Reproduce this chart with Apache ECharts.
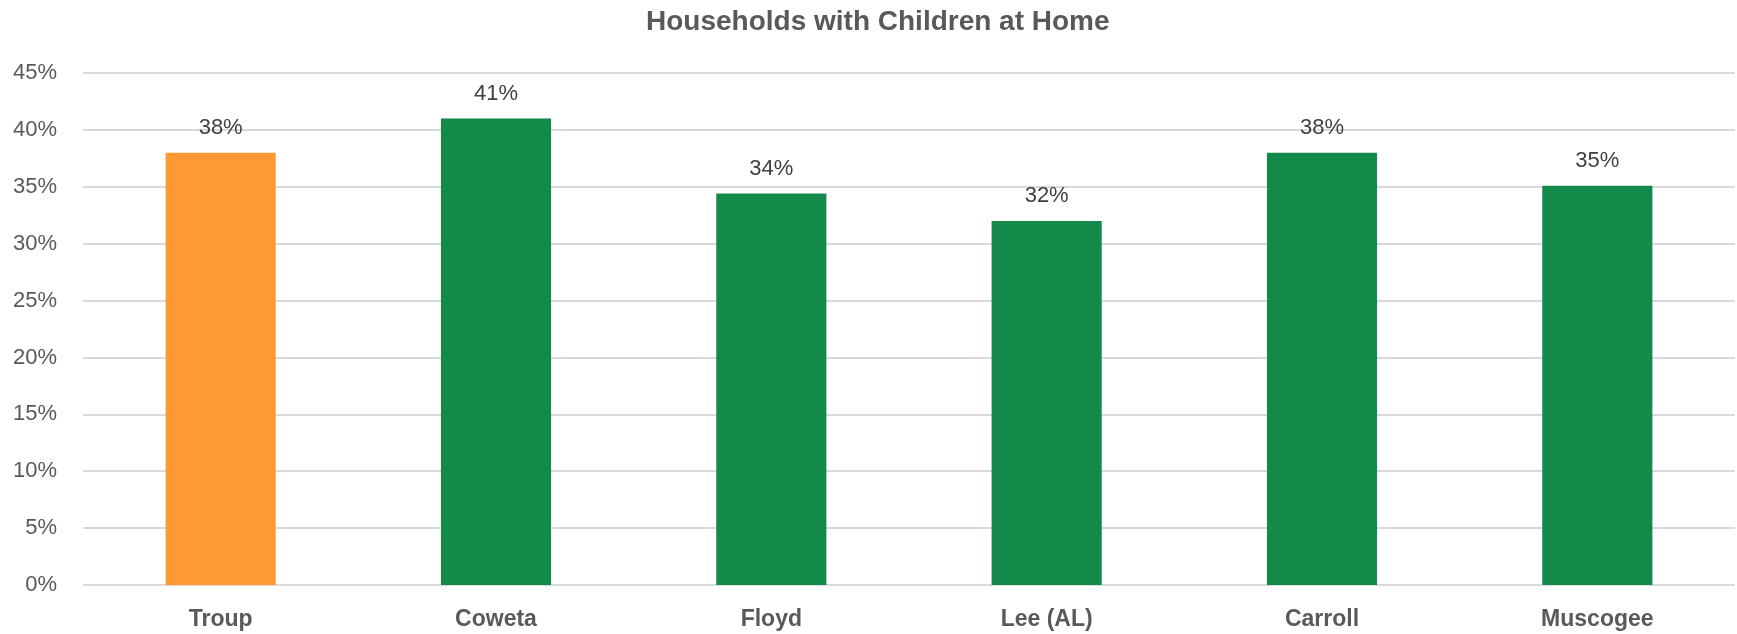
<!DOCTYPE html>
<html>
<head>
<meta charset="utf-8">
<script src="https://cdn.jsdelivr.net/npm/echarts@6/dist/echarts.min.js"></script>
<style>
html,body{margin:0;padding:0;background:#fff;}
#chart{width:1737px;height:634px;}
</style>
</head>
<body>
<div id="chart"></div>
<script>
const title = 'Households with Children at Home';
const categories = ['Troup', 'Coweta', 'Floyd', 'Lee (AL)', 'Carroll', 'Muscogee'];
const values = [38.0, 41.0, 34.4, 32.0, 38.0, 35.1];
const barColors = ['#FF9933', '#148A4A', '#148A4A', '#148A4A', '#148A4A', '#148A4A'];
const yTicks = [0, 5, 10, 15, 20, 25, 30, 35, 40, 45];

const FONT = '"Liberation Sans", Arial, sans-serif';
const chart = echarts.init(document.getElementById('chart'), null, {renderer: 'canvas'});
chart.setOption({
  animation: false,
  backgroundColor: '#ffffff',
  title: {
    text: title,
    left: 641,
    top: 3,
    textStyle: {fontFamily: FONT, fontSize: 28, fontWeight: 'bold', color: '#595959'}
  },
  grid: {left: 83, right: 2, top: 73, bottom: 49, containLabel: false},
  xAxis: {
    type: 'category',
    data: categories,
    axisLine: {show: false},
    axisTick: {show: false},
    axisLabel: {fontFamily: FONT, fontSize: 23, fontWeight: 'bold', color: '#595959', margin: 23}
  },
  yAxis: {
    type: 'value',
    min: yTicks[0],
    max: yTicks[yTicks.length - 1],
    interval: 5,
    axisLine: {show: false},
    axisTick: {show: false},
    splitLine: {lineStyle: {color: '#D9D9D9', width: 2}},
    axisLabel: {fontFamily: FONT, fontSize: 22, color: '#595959', margin: 26,
      formatter: v => v + '%'}
  },
  series: [{
    type: 'bar',
    barWidth: '40%',
    data: values.map((v, i) => ({value: v, itemStyle: {color: barColors[i]}})),
    label: {
      show: true,
      position: 'top',
      distance: 14,
      fontFamily: FONT,
      fontSize: 22,
      color: '#404040',
      formatter: p => Math.round(p.value) + '%'
    }
  }]
});
</script>
</body>
</html>
